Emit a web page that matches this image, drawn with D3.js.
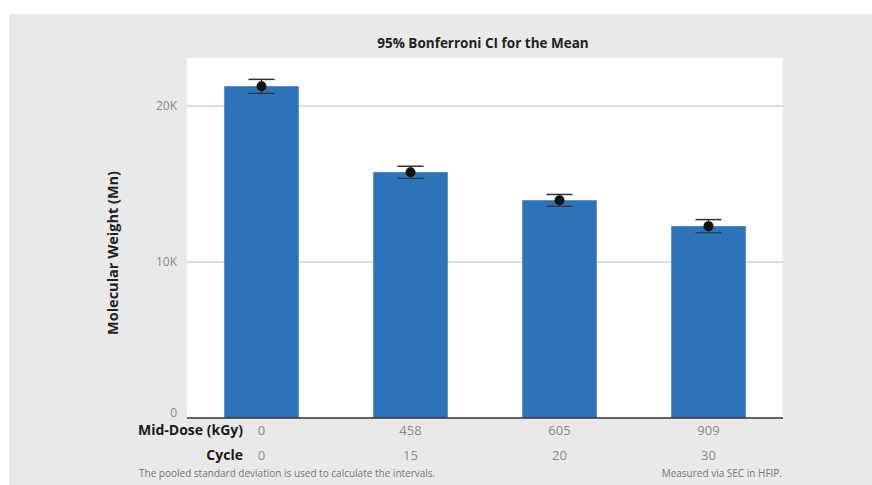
<!DOCTYPE html>
<html>
<head>
<meta charset="utf-8">
<script src="https://cdn.jsdelivr.net/npm/d3@7"></script>
<style>
  body { margin: 0; background: #fff; }
  text { font-family: "Open Sans", sans-serif; }
</style>
</head>
<body>
<div id="chart"></div>
<script>
const width = 872;
const height = 485;
const margin = { top: 58, right: 89, bottom: 67, left: 187 };

// values
const doses = ["0", "458", "605", "909"];
const cycles = ["0", "15", "20", "30"];
const means = [21270, 15760, 13960, 12300];
const ciLow = [20810, 15370, 13580, 11870];
const ciHigh = [21710, 16140, 14330, 12720];
const yTicks = [0, 10000, 20000];
const yTickLabels = ["0", "10K", "20K"];

const svg = d3.select("#chart")
    .append("svg")
    .attr("width", width)
    .attr("height", height);

// grey panel behind everything
svg.append("rect")
    .attr("x", 9).attr("y", 14)
    .attr("width", width - 9).attr("height", height - 14)
    .attr("fill", "#e9e9ea");

// white plot area
svg.append("rect")
    .attr("x", margin.left).attr("y", margin.top)
    .attr("width", width - margin.left - margin.right)
    .attr("height", height - margin.top - margin.bottom)
    .attr("fill", "#ffffff");

const x = d3.scaleBand()
    .domain(doses)
    .range([margin.left, width - margin.right])
    .paddingInner(0.5)
    .paddingOuter(0.25);

const y = d3.scaleLinear()
    .domain([0, 23080])
    .range([height - margin.bottom, margin.top]);

// gridlines
svg.selectAll(".grid")
    .data(yTicks.filter(d => d > 0))
    .enter()
    .append("line")
    .attr("x1", margin.left)
    .attr("x2", width - margin.right)
    .attr("y1", d => y(d))
    .attr("y2", d => y(d))
    .attr("stroke", "#c2b7b0")
    .attr("stroke-width", 1);

// y axis tick labels
const yAxis = d3.axisLeft(y)
    .tickValues(yTicks)
    .tickFormat((d, i) => yTickLabels[i])
    .tickSize(0)
    .tickPadding(10);

svg.append("g")
    .attr("transform", `translate(${margin.left},0)`)
    .call(yAxis)
    .call(g => g.select(".domain").remove())
    .selectAll("text")
    .style("font-family", "Open Sans, sans-serif")
    .style("font-size", "12px")
    .attr("fill", "#8a8a8a")
    .attr("dy", d => d === 0 ? "-2" : "0.32em"); // keep the 0 clear of the row label below

// bars
svg.selectAll(".bar")
    .data(means)
    .enter()
    .append("rect")
    .attr("x", (d, i) => x(doses[i]))
    .attr("y", d => y(d))
    .attr("width", x.bandwidth())
    .attr("height", d => y(0) - y(d))
    .attr("fill", "#2c73ba");

// baseline
svg.append("line")
    .attr("x1", margin.left)
    .attr("x2", width - margin.right)
    .attr("y1", y(0))
    .attr("y2", y(0))
    .attr("stroke", "#333")
    .attr("stroke-width", 1.5);

// error bars
const ci = svg.selectAll(".ci")
    .data(means)
    .enter()
    .append("g")
    .attr("transform", (d, i) => `translate(${x(doses[i]) + x.bandwidth() / 2},0)`);

ci.append("line")
    .attr("y1", (d, i) => y(ciLow[i]))
    .attr("y2", (d, i) => y(ciHigh[i]))
    .attr("stroke", "#333")
    .attr("stroke-width", 1.2);

ci.append("line")
    .attr("x1", -13).attr("x2", 13)
    .attr("y1", (d, i) => y(ciHigh[i]))
    .attr("y2", (d, i) => y(ciHigh[i]))
    .attr("stroke", "#333")
    .attr("stroke-width", 1.5);

ci.append("line")
    .attr("x1", -13).attr("x2", 13)
    .attr("y1", (d, i) => y(ciLow[i]))
    .attr("y2", (d, i) => y(ciLow[i]))
    .attr("stroke", "#333")
    .attr("stroke-width", 1.2);

ci.append("circle")
    .attr("cy", d => y(d))
    .attr("r", 5)
    .attr("fill", "#111");

// title
svg.append("text")
    .attr("x", 483)
    .attr("y", 48)
    .attr("text-anchor", "middle")
    .style("font-size", "13.5px")
    .style("font-weight", "bold")
    .attr("fill", "#222")
    .text("95% Bonferroni CI for the Mean");

// y axis title
svg.append("text")
    .attr("transform", "translate(118,253) rotate(-90)")
    .attr("text-anchor", "middle")
    .style("font-size", "14.5px")
    .style("font-weight", "bold")
    .attr("fill", "#222")
    .text("Molecular Weight (Mn)");

// x category rows
const rows = [
    { label: "Mid-Dose (kGy)", values: doses, y: 435 },
    { label: "Cycle", values: cycles, y: 460 }
];

rows.forEach(r => {
    svg.append("text")
        .attr("x", 243)
        .attr("y", r.y)
        .attr("text-anchor", "end")
        .style("font-size", "14px")
        .style("font-weight", "bold")
        .attr("fill", "#1a1a1a")
        .text(r.label);

    svg.selectAll(null)
        .data(r.values)
        .enter()
        .append("text")
        .attr("x", (d, i) => x(doses[i]) + x.bandwidth() / 2)
        .attr("y", r.y)
        .attr("text-anchor", "middle")
        .style("font-size", "13px")
        .attr("fill", "#8a8a8a")
        .text(d => d);
});

// footnotes
svg.append("text")
    .attr("x", 139)
    .attr("y", 477)
    .style("font-size", "10px")
    .attr("fill", "#777")
    .text("The pooled standard deviation is used to calculate the intervals.");

svg.append("text")
    .attr("x", 782)
    .attr("y", 477)
    .attr("text-anchor", "end")
    .style("font-size", "10px")
    .attr("fill", "#777")
    .text("Measured via SEC in HFIP.");
</script>
</body>
</html>
